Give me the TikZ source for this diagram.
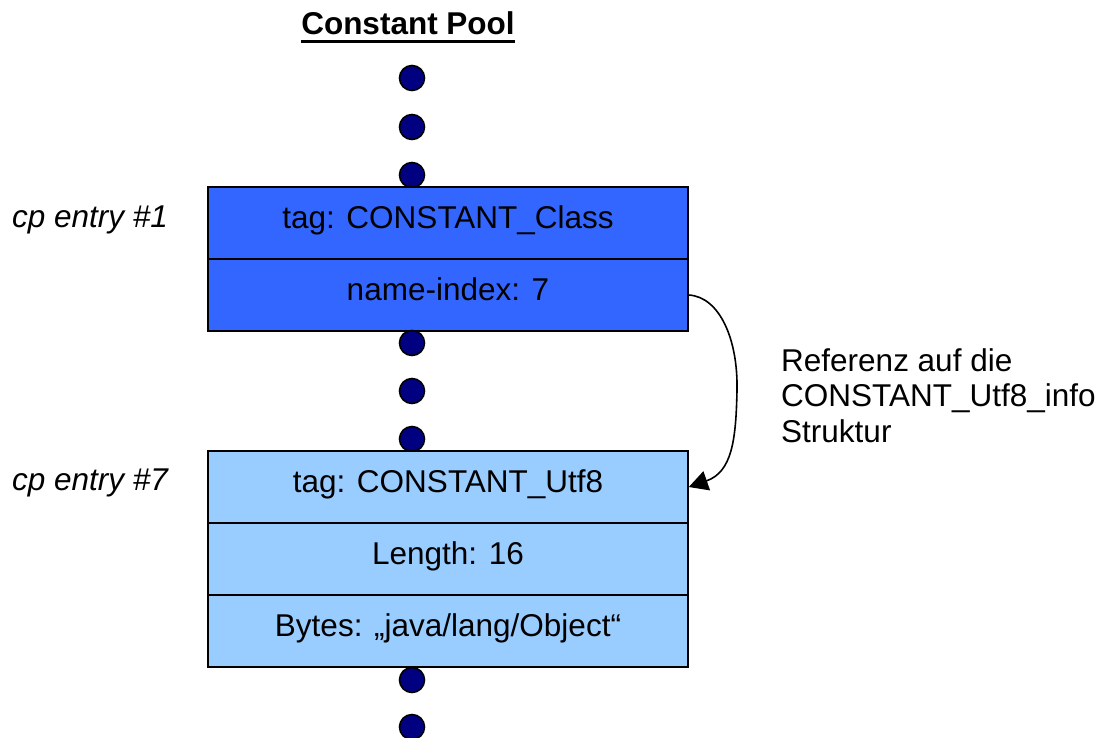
\documentclass[tikz,border=0pt]{standalone}
\usepackage{fontspec}
\setmainfont{Liberation Sans}
\usetikzlibrary{arrows.meta}
\definecolor{dotblue}{RGB}{0,0,128}
\definecolor{classblue}{RGB}{51,102,255}
\definecolor{utfblue}{RGB}{153,204,255}
\begin{document}
\begin{tikzpicture}[x=1pt,y=-1pt,
  every node/.style={font=\fontsize{31.5}{35.5}\selectfont, inner sep=0pt},
  row/.style={draw=black, line width=1.6pt, minimum width=480pt, minimum height=72pt,
    text height=20pt, text depth=10pt, anchor=center},
  pooldot/.style={circle, draw=black, line width=1.6pt, fill=dotblue, minimum size=25pt},
  sidelabel/.style={anchor=base west, font=\fontsize{31.5}{35.5}\selectfont\itshape}]
\useasboundingbox (0,0) rectangle (1107,737);

% title
\node[anchor=base, font=\fontsize{31.5}{35.5}\selectfont\bfseries] (title) at (408,34) {Constant Pool};
\draw[line width=3pt] (title.south west |- 0,41) -- (title.south east |- 0,41);

% dots above the first entry
\node[pooldot] (d1) at (412,78) {};
\node[pooldot] (d2) at (412,127) {};
\node[pooldot] (d3) at (412,175) {};

% entry #1: CONSTANT_Class
\node[row, fill=classblue] (c1) at (448,223) {tag: CONSTANT\_Class};
\node[row, fill=classblue] (c2) at (448,295) {name-index: 7};

% dots between the entries
\node[pooldot] (d4) at (412,343) {};
\node[pooldot] (d5) at (412,391) {};
\node[pooldot] (d6) at (412,439) {};

% entry #7: CONSTANT_Utf8
\node[row, fill=utfblue] (u1) at (448,487) {tag: CONSTANT\_Utf8};
\node[row, fill=utfblue] (u2) at (448,559) {Length: 16};
\node[row, fill=utfblue] (u3) at (448,631) {Bytes: „java/lang/Object“};

% dots below
\node[pooldot] (d7) at (412,680) {};
\node[pooldot] (d8) at (412,727) {};

% entry labels
\node[sidelabel] (l1) at (12,227) {cp entry \#1};
\node[sidelabel] (l7) at (12,490) {cp entry \#7};

% reference arrow
\draw[line width=1.6pt, -{Triangle[length=19pt,width=20pt]}]
  (c2.east) .. controls (720,297) and (738,340) .. (737,390)
  .. controls (736,440) and (732,472) .. (u1.east);

\node[anchor=north west, align=left] (ref) at (781,348)
  {Referenz auf die\\CONSTANT\_Utf8\_info\\Struktur};
\end{tikzpicture}
\end{document}
